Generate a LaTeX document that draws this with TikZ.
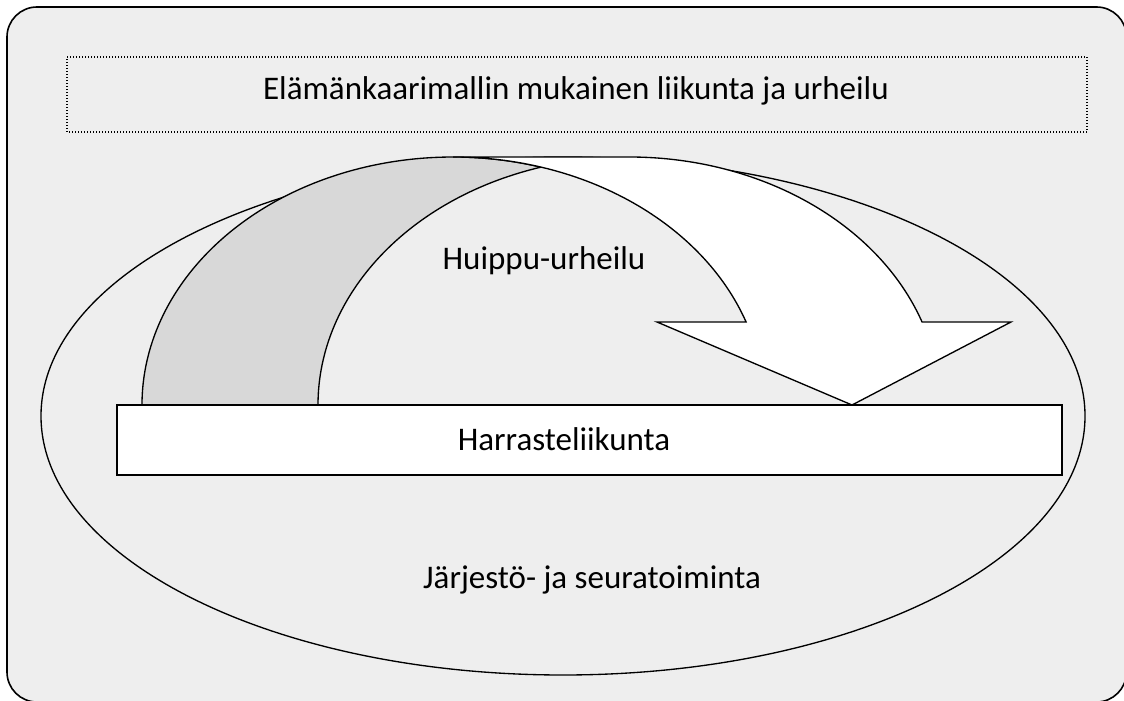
\documentclass[tikz,border=0pt]{standalone}
\usepackage{fontspec}
\setmainfont{Carlito}
\definecolor{panelgray}{RGB}{238,238,238}
\definecolor{backgray}{RGB}{216,216,216}
\tikzset{shapeline/.style={draw=black,line width=1pt},
  labeltext/.style={font=\fontsize{24.75}{30}\selectfont,anchor=base,inner sep=0pt}}

\begin{document}
\begin{tikzpicture}[x=0.75pt,y=0.75pt]
   \useasboundingbox (0,0) rectangle (1124,700);
   \clip (0,0) rectangle (1124,700);

   % panel and title
   \draw[fill=panelgray,line width=1.2pt,rounded corners=22.5pt] (7,693) rectangle (1126.5,-2);
   \draw[line width=1.1pt,dash pattern=on 1pt off 1.25pt] (67,568) rectangle (1087,643);
   \node[labeltext] (title) at (576,600) {Elämänkaarimallin mukainen liikunta ja urheilu};

   \draw[shapeline] (563,284) ellipse [x radius=522, y radius=259];

   % back of the arrow
   \draw[shapeline,fill=backgray] (318,295)
      arc[start angle=180,end angle=106.44,x radius=311,y radius=248]
      arc[start angle=73.56,end angle=180,x radius=311,y radius=248] -- cycle;
   % front of the arrow
   \draw[shapeline,fill=white] (852,295) -- (657,378) -- (746.1,378)
      arc[start angle=19.55,end angle=90,x radius=311,y radius=248] -- (629,543)
      arc[start angle=90,end angle=19.55,x radius=311,y radius=248] -- (1011,378) -- cycle;

   \draw[shapeline,fill=white] (117,225) rectangle (1062,295);

   \node[labeltext] (huippu) at (544,430) {Huippu-urheilu};
   \node[labeltext] (harraste) at (564,249) {Harrasteliikunta};
   \node[labeltext] (jarjesto) at (592,112) {Järjestö- ja seuratoiminta};
\end{tikzpicture}
\end{document}
